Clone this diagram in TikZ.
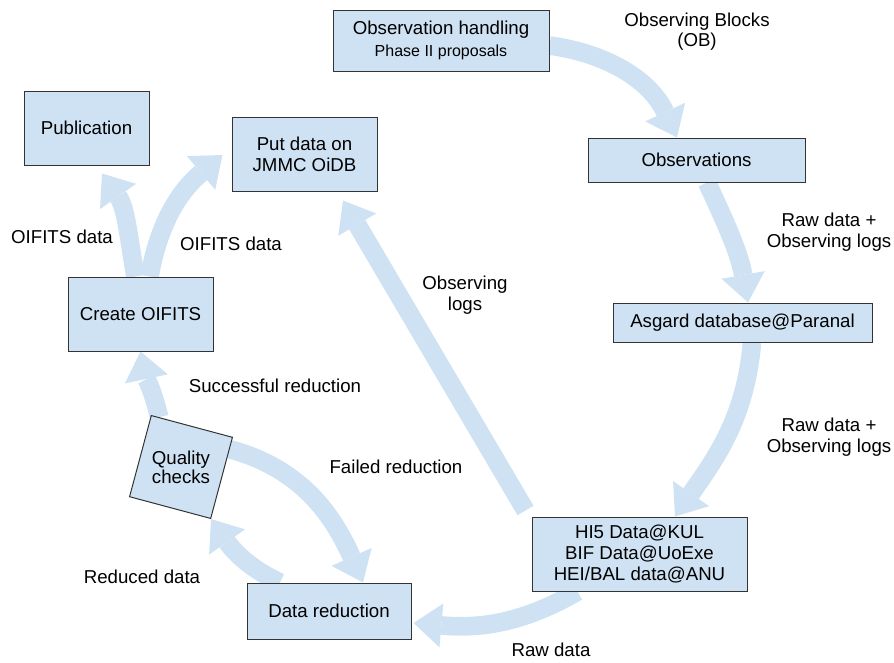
\documentclass[tikz,border=0pt]{standalone}
\usepackage{fontspec}
\setmainfont{Liberation Sans}
\usepackage{xcolor}
\usetikzlibrary{calc, arrows.meta, backgrounds}

\definecolor{boxfill}{HTML}{CFE2F3}
\definecolor{flowfill}{HTML}{CFE2F3}
\definecolor{boxline}{HTML}{333333}

\tikzset{
  stage/.style={rectangle, draw=boxline, line width=0.75pt, fill=boxfill,
    inner sep=0pt, align=center, font=\fontsize{14}{16}\selectfont},
  flow/.style={color=flowfill, line width=14pt,
    -{Triangle[length=21pt, width=33pt, line width=0pt, fill=flowfill]}},
  lbl/.style={align=center, inner sep=0pt, font=\fontsize{14}{16}\selectfont}
}

\begin{document}
\begin{tikzpicture}[x=0.75pt, y=0.75pt]
        \useasboundingbox (0,0) rectangle (894,-662);
%	boxes
        \node[stage, minimum width=162pt, minimum height=45.75pt] (handling) at (441,-40.5)
            {Observation handling\\{\fontsize{12}{14}\selectfont Phase II proposals}};
        \node[stage, minimum width=162.75pt, minimum height=33pt] (obs) at (696.5,-160) {Observations};
        \node[stage, minimum width=194.25pt, minimum height=29.25pt] (asgard) at (742.5,-322.5) {Asgard database@Paranal};
        \node[stage, minimum width=161.25pt, minimum height=55.5pt] (hifive) at (639.5,-554)
            {HI5 Data@KUL\\BIF Data@UoExe\\HEI/BAL data@ANU};
        \node[stage, minimum width=123pt, minimum height=42pt] (reduction) at (329,-611) {Data reduction};
        \node[stage, minimum size=63pt, rotate=-15] (qframe) at (181,-467) {};
        \node[lbl, font=\fontsize{14}{13}\selectfont] (quality) at (qframe.center) {Quality\\checks};
        \node[stage, minimum width=108.75pt, minimum height=55.5pt] (create) at (140.5,-314) {Create OIFITS};
        \node[stage, minimum width=93.75pt, minimum height=55.5pt] (publication) at (86.5,-128) {Publication};
        \node[stage, minimum width=108.75pt, minimum height=55.5pt] (oidb) at (304.5,-154) {Put data on\\JMMC OiDB};
%	labels
        \node[lbl, font=\fontsize{14}{15}\selectfont] (obblocks) at (697,-32) {Observing Blocks\\(OB)};
        \node[lbl] (rawlogsA) at (829,-232) {Raw data +\\Observing logs};
        \node[lbl] (rawlogsB) at (829,-437) {Raw data +\\Observing logs};
        \node[lbl] (obslogs) at (465,-295) {Observing\\logs};
        \node[lbl] (failed) at (396,-467) {Failed reduction};
        \node[lbl] (success) at (275,-386) {Successful reduction};
        \node[lbl] (reduced) at (142,-577) {Reduced data};
        \node[lbl] (rawdata) at (551,-650) {Raw data};
        \node[lbl] (oifitsA) at (62,-237) {OIFITS data};
        \node[lbl] (oifitsB) at (231,-244) {OIFITS data};
%	flows
        \begin{scope}[on background layer]
        \path[flow]
        ($(handling.east)+(0,-5)$) edge[out=-8, in=115] ($(obs.north)+(-19.5,0)$)
        ($(obs.south)+(10.5,0)$) edge[out=-65, in=100] ($(asgard.north)+(5.5,0)$)
        ($(asgard.south)+(9.5,0)$) edge[out=-95, in=55] ($(hifive.north)+(35.5,0)$)
        ($(hifive.south)+(-62,0)$) edge[out=-150, in=-5] ($(reduction.east)+(2,-12)$)
        ($(reduction.north)+(-49,0)$) edge[out=155, in=-55] (qframe.south east)
        (qframe.35) edge[out=-15, in=114] ($(reduction.north)+(34,0)$)
        ($(qframe.north west)!0.1!(qframe.north east)$) edge[out=103, in=-78] (create.south)
        ($(create.north)+(-5,0)$) edge[out=100, in=-55] ($(publication.south)+(15.5,-8)$)
        ($(create.north)+(9,0)$) edge[out=80, in=-140] ($(oidb.west)+(-9,-1)$)
        ($(hifive.north west)+(-6,6)$) edge ($(oidb.south)+(38.5,-9)$);
        \end{scope}
\end{tikzpicture}
\end{document}
